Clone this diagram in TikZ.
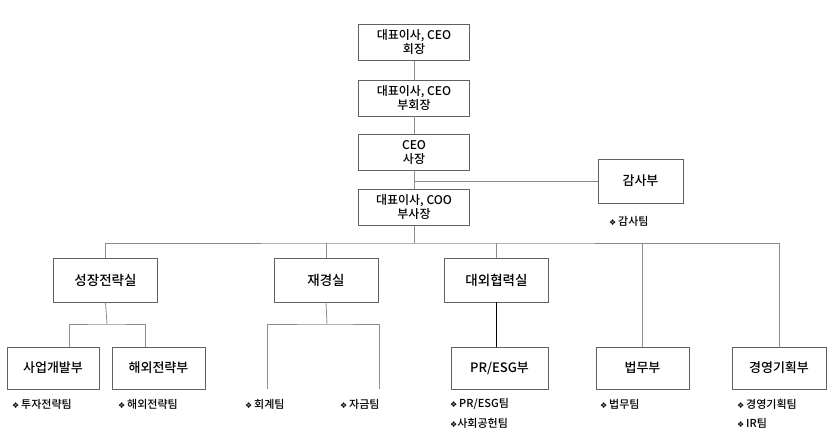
\documentclass[tikz,border=0pt]{standalone}
\usepackage{fontspec}
\IfFontExistsTF{Noto Sans CJK KR Medium}
  {\setmainfont{Noto Sans CJK KR Medium}}
  {\setmainfont{Noto Sans CJK KR}[FakeBold=0.6]}
\newfontfamily\symfont{DejaVu Sans}
\usetikzlibrary{positioning,calc}

\newcommand{\team}[1]{{\symfont\fontsize{8}{9}\selectfont ❖}\,#1}

\begin{document}
\begin{tikzpicture}[
  x=1pt,
  y=-1pt,
  font=\fontsize{12}{14}\selectfont,
  unit/.style={draw=black!62, line width=0.8pt, fill=white, align=center, inner sep=0pt},
  topunit/.style={unit, minimum width=111pt, minimum height=36pt, font=\fontsize{12}{14}\selectfont},
  midunit/.style={unit, minimum width=104pt, minimum height=44pt, font=\fontsize{13.5}{15}\selectfont},
  lowunit/.style={unit, minimum width=93pt, minimum height=42pt, font=\fontsize{13}{15}\selectfont},
  link/.style={draw=black!45, line width=0.8pt},
  teamlbl/.style={anchor=west, inner sep=0pt, font=\fontsize{11}{12}\selectfont}
]
\useasboundingbox (0,0) rectangle (835,442);

% executives
\node[topunit] (chair) at (414,42.5) {대표이사, CEO\\회장};
\node[topunit] (vchair) at (414,98) {대표이사, CEO\\부회장};
\node[topunit] (ceo) at (414,152) {CEO\\사장};
\node[topunit] (coo) at (414,207.5) {대표이사, COO\\부사장};
\node[unit, minimum width=85pt, minimum height=44pt, font=\fontsize{13}{15}\selectfont] (audit) at (640.5,181) {감사부};

% offices
\node[midunit] (growth) at (105.5,280) {성장전략실};
\node[midunit] (finance) at (326,280) {재경실};
\node[midunit] (extern) at (496.5,280) {대외협력실};

% departments
\node[lowunit, minimum width=92pt] (bizdev) at (53,368) {사업개발부};
\node[lowunit] (overseas) at (158.5,368) {해외전략부};
\node[lowunit, minimum width=97pt] (presg) at (499.5,368) {PR/ESG부};
\node[lowunit] (legal) at (642.5,368) {법무부};
\node[lowunit, minimum width=94pt] (planning) at (779,368) {경영기획부};

% junctions
\coordinate (bus) at (414,243);
\coordinate (gbus) at (107,324);
\coordinate (fbus) at (327,324);
\coordinate (acct) at (267,389);
\coordinate (fund) at (379,389);

% executive line
\foreach \a/\b in {chair/vchair, vchair/ceo, ceo/coo}
  \draw[link] (\a.south) -- (\b.north);
\draw[link] (audit.west) -- (audit.west -| ceo.south);
\draw[link] (coo.south) -- (bus);

% main bus
\draw[link] (growth.north) |- (bus) -| (planning.north);
\foreach \n in {finance, extern, legal}
  \draw[link] (\n.north) -- (\n.north |- bus);

% sub branches
\draw[link] (growth.south) -- (gbus);
\draw[link] ([xshift=16pt]bizdev.north) |- (gbus) -| ([xshift=-13.5pt]overseas.north);
\draw[link] (finance.south) -- (fbus);
\draw[link] (acct) |- (fbus) -| (fund);
\draw[line width=0.8pt] (extern.south) -- (extern.south |- presg.north);

% teams
\node[teamlbl] (t-audit) at (609,221) {\team{감사팀}};
\node[teamlbl] (t-invest) at (12,404) {\team{투자전략팀}};
\node[teamlbl] (t-overseas) at (118,404) {\team{해외전략팀}};
\node[teamlbl] (t-acct) at (245,404) {\team{회계팀}};
\node[teamlbl] (t-fund) at (340,404) {\team{자금팀}};
\node[teamlbl] (t-presg) at (450,404) {\team{PR/ESG팀}};
\node[teamlbl] (t-social) at (450,423) {{\symfont\fontsize{8}{9}\selectfont ❖}사회공헌팀};
\node[teamlbl] (t-legal) at (600,404) {\team{법무팀}};
\node[teamlbl] (t-plan) at (737,404) {\team{경영기획팀}};
\node[teamlbl] (t-ir) at (737,423) {\team{IR팀}};
\end{tikzpicture}
\end{document}
